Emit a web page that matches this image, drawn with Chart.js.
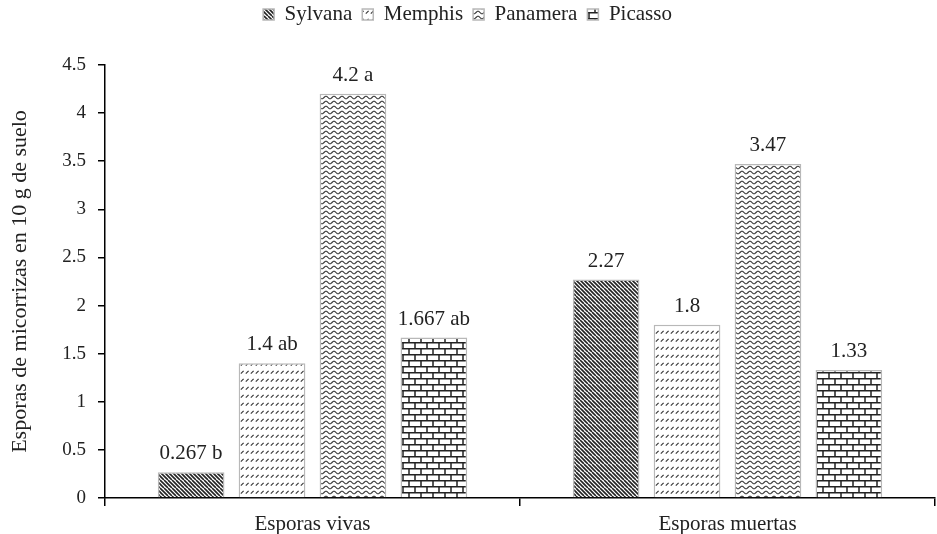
<!DOCTYPE html>
<html><head><meta charset="utf-8">
<script src="https://cdn.jsdelivr.net/npm/chart.js@4"></script>
<style>html,body{margin:0;padding:0;background:#fff}#wrap{width:937px;height:534px}</style>
</head><body><div id="wrap"><canvas id="c" width="937" height="534"></canvas></div>
<script>
const categories = ["Esporas vivas", "Esporas muertas"];
const seriesNames = ["Sylvana", "Memphis", "Panamera", "Picasso"];
const sylvana = [0.267, 2.27];
const memphis = [1.4, 1.8];
const panamera = [4.2, 3.47];
const picasso = [1.667, 1.33];
const sylvanaLabels = ["0.267 b", "2.27"];
const memphisLabels = ["1.4 ab", "1.8"];
const panameraLabels = ["4.2 a", "3.47"];
const picassoLabels = ["1.667 ab", "1.33"];
const yTicks = [0, 0.5, 1, 1.5, 2, 2.5, 3, 3.5, 4, 4.5];
const yTitle = "Esporas de micorrizas en 10 g de suelo";

const serif = 'Liberation Serif';
Chart.defaults.font.family = serif;
Chart.defaults.color = '#222';

function tile(w, h, draw) {
  const c = document.createElement('canvas');
  c.width = w; c.height = h;
  const g = c.getContext('2d');
  g.fillStyle = '#fff'; g.fillRect(0, 0, w, h);
  draw(g);
  return document.getElementById('c').getContext('2d').createPattern(c, 'repeat');
}
const patSylvana = tile(8, 8, g => {
  g.strokeStyle = '#222'; g.lineWidth = 1.6;
  for (let o = -8; o <= 16; o += 4) { g.beginPath(); g.moveTo(o, 0); g.lineTo(o + 8, 8); g.stroke(); }
});
const patMemphis = tile(5, 8, g => {
  g.strokeStyle = '#333'; g.lineWidth = 1.1;
  g.beginPath(); g.moveTo(0.8, 5.6); g.lineTo(3.6, 2.8); g.stroke();
});
const patPanamera = tile(8, 5, g => {
  g.strokeStyle = '#333'; g.lineWidth = 1.1;
  g.beginPath();
  for (let x = 0; x <= 8; x += 0.5) {
    const y = 2.5 + 1.3 * Math.sin(x / 8 * Math.PI * 2);
    if (x === 0) g.moveTo(x, y); else g.lineTo(x, y);
  }
  g.stroke();
});
const patPicasso = tile(12, 12, g => {
  g.strokeStyle = '#222'; g.lineWidth = 1.5;
  g.beginPath();
  g.moveTo(0, 0.75); g.lineTo(12, 0.75);
  g.moveTo(0, 6.75); g.lineTo(12, 6.75);
  g.moveTo(1, 0); g.lineTo(1, 6.75);
  g.moveTo(7, 6.75); g.lineTo(7, 12);
  g.stroke();
});

const labelSets = [sylvanaLabels, memphisLabels, panameraLabels, picassoLabels];
const barLabelPlugin = {
  id: 'barLabels',
  afterDatasetsDraw(chart) {
    const ctx = chart.ctx;
    ctx.save();
    ctx.font = '21px "Liberation Serif", serif';
    ctx.fillStyle = '#222';
    ctx.textAlign = 'center';
    ctx.textBaseline = 'alphabetic';
    chart.data.datasets.forEach((ds, i) => {
      const meta = chart.getDatasetMeta(i);
      meta.data.forEach((bar, j) => {
        ctx.fillText(labelSets[i][j], bar.x, bar.y - 13);
      });
    });
    ctx.restore();
  }
};
const legendMargin = {
  id: 'legendMargin',
  beforeInit(chart) {
    const orig = chart.legend.fit;
    chart.legend.fit = function () { orig.call(this); this.height += 30; };
  }
};

const border = '#b8b8b8';
new Chart(document.getElementById('c'), {
  type: 'bar',
  data: {
    labels: categories,
    datasets: [
      { label: seriesNames[0], data: sylvana, backgroundColor: patSylvana, borderColor: border, borderWidth: 1.5 },
      { label: seriesNames[1], data: memphis, backgroundColor: patMemphis, borderColor: border, borderWidth: 1.5 },
      { label: seriesNames[2], data: panamera, backgroundColor: patPanamera, borderColor: border, borderWidth: 1.5 },
      { label: seriesNames[3], data: picasso, backgroundColor: patPicasso, borderColor: border, borderWidth: 1.5 }
    ]
  },
  options: {
    responsive: false,
    animation: false,
    devicePixelRatio: 1,
    categoryPercentage: 0.78,
    barPercentage: 0.824,
    layout: { padding: { left: 0, right: 2, top: -6, bottom: 0 } },
    plugins: {
      legend: {
        position: 'top',
        labels: {
          boxWidth: 11, boxHeight: 11, padding: 10,
          color: '#222',
          font: { family: serif, size: 21 }
        }
      },
      tooltip: { enabled: false }
    },
    scales: {
      x: {
        grid: { display: true, drawOnChartArea: false, drawTicks: true, tickLength: 8, color: '#000', lineWidth: 1.5 },
        border: { display: true, color: '#000', width: 1.5 },
        ticks: { color: '#222', font: { family: serif, size: 21 }, padding: 6 },
        afterFit(s) { s.height = 36; }
      },
      y: {
        min: 0, max: 4.5,
        afterBuildTicks(s) { s.ticks = yTicks.map(v => ({ value: v })); },
        grid: { display: true, drawOnChartArea: false, drawTicks: true, tickLength: 7, color: '#000', lineWidth: 1.5 },
        border: { display: true, color: '#000', width: 1.5 },
        ticks: { color: '#222', font: { family: serif, size: 19 }, padding: 12, callback: v => String(v) },
        title: { display: true, text: yTitle, color: '#222', font: { family: serif, size: 22 }, padding: { top: 7, bottom: 6 } },
        afterFit(s) { s.width = 105; }
      }
    }
  },
  plugins: [barLabelPlugin, legendMargin]
});
</script></body></html>
